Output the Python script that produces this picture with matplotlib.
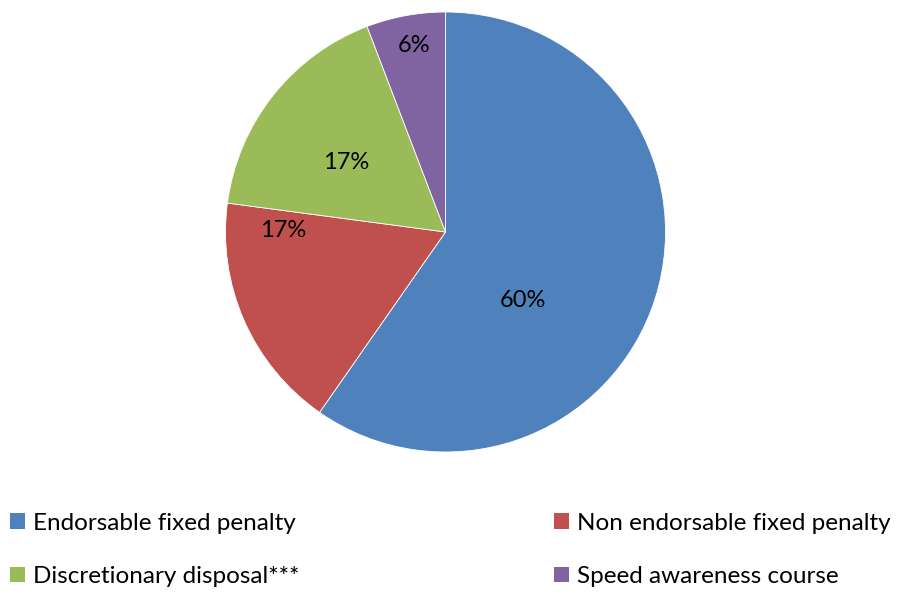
import numpy as np
import matplotlib.pyplot as plt
from matplotlib.patches import Patch

plt.rcParams['font.family'] = ['Lato', 'DejaVu Sans']

# data
categories = ['Endorsable fixed penalty', 'Non endorsable fixed penalty',
              'Discretionary disposal***', 'Speed awareness course']
shares = [59.7, 17.4, 17.1, 5.8]
colors = ['#4F81BD', '#C0504D', '#9BBB59', '#8064A2']

# where each percentage label sits (angle in degrees, fraction of radius)
label_angle = [-41.4, 179.3, 145.0, 99.7]
label_rad = [0.47, 0.74, 0.55, 0.86]

W, H = 897, 592
fig = plt.figure(figsize=(W / 100, H / 100), dpi=100)
cx, cy, r = 445.5, 232, 220
ax = fig.add_axes([(cx - r) / W, (H - cy - r) / H, 2 * r / W, 2 * r / H])

ax.pie(shares, colors=colors, startangle=90, counterclock=False, radius=1,
       wedgeprops=dict(edgecolor='white', linewidth=0.6))
ax.set_xlim(-1, 1)
ax.set_ylim(-1, 1)
ax.set_aspect('equal')
ax.axis('off')

for v, a, rr in zip(shares, label_angle, label_rad):
    t = np.deg2rad(a)
    ax.text(rr * np.cos(t), rr * np.sin(t), f'{round(v):.0f}%',
            ha='center', va='center', fontsize=17, color='black')

# legend in two columns: blue, green on the left | red, purple on the right
fs = 17.5
for idx, x0 in [([0, 2], 10), ([1, 3], 554)]:
    handles = [Patch(facecolor=colors[i], edgecolor='none') for i in idx]
    labels = [categories[i] for i in idx]
    fig.legend(handles, labels, loc='center left',
               bbox_to_anchor=(x0 / W, 1 - 550 / H), frameon=False,
               fontsize=fs, borderpad=0, borderaxespad=0,
               handlelength=0.62, handleheight=0.62,
               handletextpad=0.33, labelspacing=1.33)

fig.savefig('out.png', dpi=100)
